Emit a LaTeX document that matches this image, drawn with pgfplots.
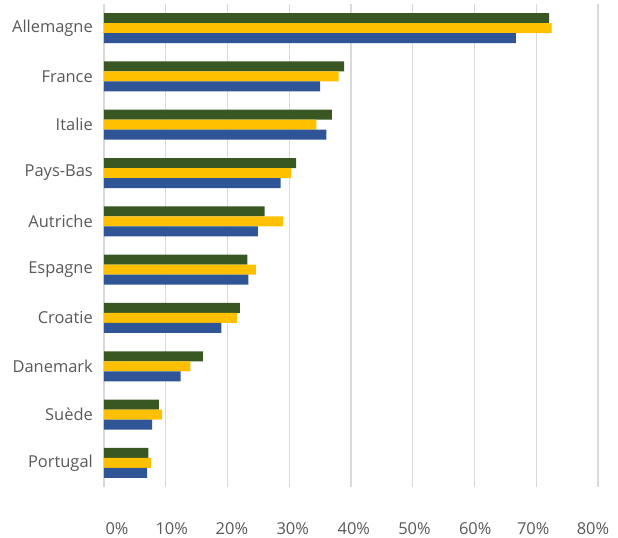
\documentclass[border=0pt]{standalone}
\usepackage{pgfplots}
\pgfplotsset{compat=1.18}
\usepackage{fontspec}
\setmainfont{Open Sans}
\definecolor{cgreen}{HTML}{385723}
\definecolor{cyellow}{HTML}{FFC000}
\definecolor{cblue}{HTML}{2F5597}
\definecolor{ctext}{HTML}{595959}
\definecolor{cgrid}{HTML}{D9D9D9}
% shift a tick label sideways by #1
\newcommand\tl[2]{\hspace*{#1}#2\hspace*{-#1}}
\begin{document}
\begin{tikzpicture}
\begin{axis}[
    xbar, scale only axis, width=494bp, height=483bp,
    at={(0,0)}, anchor=south west,
    xmin=0, xmax=80, ymin=-0.5, ymax=9.5, y dir=reverse,
    axis line style={draw=none}, major tick length=0pt,
    xmajorgrids, grid style={cgrid, line width=1.4bp},
    xtick={0,10,...,80},
    xticklabels={\tl{13bp}{0\%},\tl{6bp}{10\%},\tl{4.4bp}{20\%},\tl{3.5bp}{30\%},\tl{2.8bp}{40\%},\tl{1.7bp}{50\%},\tl{0.7bp}{60\%},\tl{-3bp}{70\%},\tl{-5bp}{80\%}},
    ytick={0,...,9},
    yticklabels={Allemagne,France,Italie,Pays-Bas,Autriche,Espagne,Croatie,Danemark,Suède,Portugal},
    tick label style={font=\fontsize{16.5}{19}\selectfont, text=ctext},
    yticklabel style={anchor=east, inner sep=0pt, xshift=-11bp},
    xticklabel style={anchor=center, inner sep=0pt, yshift=-42bp},
    bar width=10bp,
]
\addplot[fill=cgreen, draw=none, bar shift=10bp] coordinates {
    (72.1,0) (38.9,1) (36.9,2) (31.1,3) (26.0,4) (23.2,5) (22.0,6) (16.0,7) (8.9,8) (7.2,9)};
\addplot[fill=cyellow, draw=none, bar shift=0bp] coordinates {
    (72.5,0) (38.0,1) (34.4,2) (30.3,3) (29.0,4) (24.6,5) (21.5,6) (14.0,7) (9.4,8) (7.6,9)};
\addplot[fill=cblue, draw=none, bar shift=-10bp] coordinates {
    (66.7,0) (35.0,1) (36.0,2) (28.6,3) (24.9,4) (23.4,5) (19.0,6) (12.4,7) (7.8,8) (7.0,9)};
\end{axis}
\path[use as bounding box] (-104bp,-51bp) rectangle (514bp,487bp);
\end{tikzpicture}
\end{document}
